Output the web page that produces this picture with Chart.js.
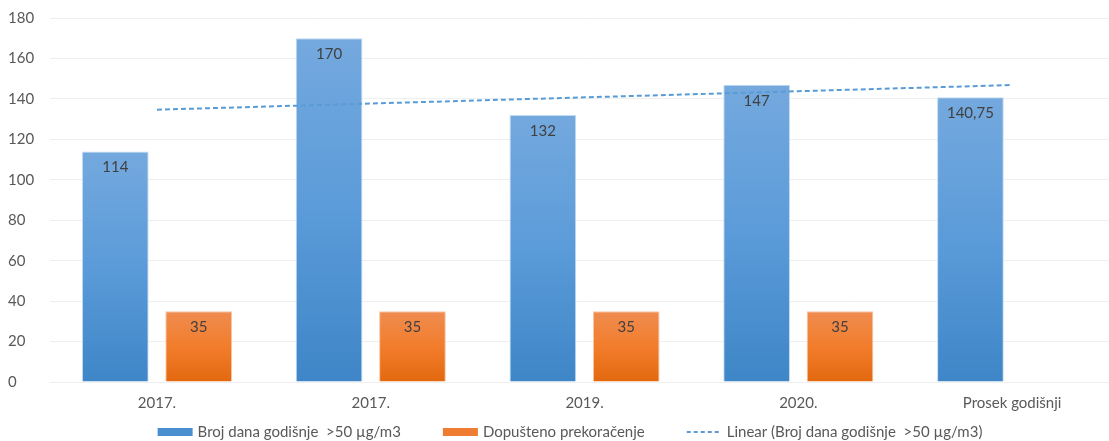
<!DOCTYPE html>
<html>
<head>
<meta charset="utf-8">
<script src="https://cdn.jsdelivr.net/npm/chart.js@4/dist/chart.umd.min.js"></script>
<style>
  html, body { margin: 0; padding: 0; background: #ffffff; overflow: hidden; }
  #wrap { width: 1119px; height: 441px; position: relative; }
</style>
</head>
<body>
<div id="wrap"><canvas id="c"></canvas></div>
<script>
const categories = ['2017.', '2017.', '2019.', '2020.', 'Prosek godišnji'];
const seriesDays = [114, 170, 132, 147, 140.75];
const seriesAllowed = [35, 35, 35, 35, null];
const trendValues = [134.65, 137.7, 140.75, 143.8, 146.85];
const yTicks = [0, 20, 40, 60, 80, 100, 120, 140, 160, 180];
const seriesNames = ['Broj dana godišnje  >50 µg/m3', 'Dopušteno prekoračenje', 'Linear (Broj dana godišnje  >50 µg/m3)'];

const FONT = 'Lato, "Open Sans", sans-serif';
const TEXT = '#595959';

function barGrad(ctx, top, mid, bottom) {
  const chart = ctx.chart;
  const y = chart.scales && chart.scales.y;
  if (!chart.chartArea || !y || ctx.raw === null || ctx.raw === undefined) return mid;
  const y0 = y.getPixelForValue(ctx.raw);
  const y1 = y.getPixelForValue(0);
  const g = chart.ctx.createLinearGradient(0, y0, 0, y1);
  g.addColorStop(0, top);
  g.addColorStop(0.5, mid);
  g.addColorStop(1, bottom);
  return g;
}

const labelPlugin = {
  id: 'barLabels',
  afterDatasetsDraw(chart) {
    const ctx = chart.ctx;
    ctx.save();
    ctx.font = '15px ' + FONT;
    ctx.fillStyle = '#404040';
    ctx.textAlign = 'center';
    ctx.textBaseline = 'middle';
    [0, 1].forEach(di => {
      const meta = chart.getDatasetMeta(di);
      const data = chart.data.datasets[di].data;
      meta.data.forEach((bar, i) => {
        const v = data[i];
        if (v === null || v === undefined) return;
        const txt = String(v).replace('.', ',');
        ctx.fillText(txt, bar.x, bar.y + 16);
      });
    });
    ctx.restore();
  }
};

const legendPlugin = {
  id: 'customLegend',
  afterDraw(chart) {
    const ctx = chart.ctx;
    ctx.save();
    ctx.font = '15px ' + FONT;
    ctx.textBaseline = 'middle';
    ctx.textAlign = 'left';
    const y = 432;
    const symW = 35, symGap = 5, itemGap = 42;
    const widths = seriesNames.map(n => ctx.measureText(n).width);
    const total = widths.reduce((a, b) => a + b, 0) + 3 * (symW + symGap) + 2 * itemGap;
    let x = 570 - total / 2;
    const colors = ['#4a8fd0', '#ef7d31', '#5b9bd5'];
    seriesNames.forEach((n, i) => {
      if (i < 2) {
        ctx.fillStyle = colors[i];
        ctx.fillRect(x, y - 4, symW, 8);
      } else {
        ctx.strokeStyle = colors[i];
        ctx.lineWidth = 2;
        ctx.setLineDash([4, 3]);
        ctx.beginPath();
        ctx.moveTo(x, y);
        ctx.lineTo(x + symW, y);
        ctx.stroke();
        ctx.setLineDash([]);
      }
      ctx.fillStyle = TEXT;
      ctx.fillText(n, x + symW + symGap, y);
      x += symW + symGap + widths[i] + itemGap;
    });
    ctx.restore();
  }
};

new Chart(document.getElementById('c'), {
  type: 'bar',
  data: {
    labels: categories,
    datasets: [
      {
        label: seriesNames[0],
        data: seriesDays,
        backgroundColor: c => barGrad(c, '#74a9de', '#5b9bd9', '#3e86c7'),
        borderColor: 'rgba(195,218,242,1)',
        borderWidth: 1,
        barPercentage: 0.8,
        categoryPercentage: 0.78,
        order: 1
      },
      {
        label: seriesNames[1],
        data: seriesAllowed,
        backgroundColor: c => barGrad(c, '#ef8c50', '#f27d2c', '#e3680f'),
        borderColor: 'rgba(248,198,165,1)',
        borderWidth: 1,
        barPercentage: 0.8,
        categoryPercentage: 0.78,
        order: 1
      },
      {
        type: 'line',
        label: seriesNames[2],
        data: trendValues,
        borderColor: '#5b9bd5',
        borderWidth: 2,
        borderDash: [5, 3],
        pointRadius: 0,
        fill: false,
        order: 0
      }
    ]
  },
  options: {
    responsive: true,
    maintainAspectRatio: false,
    animation: false,
    layout: { padding: { top: 18, left: 8, right: 0, bottom: 25 } },
    scales: {
      x: {
        grid: { display: false },
        border: { display: false },
        ticks: { color: TEXT, font: { family: FONT, size: 15 }, padding: 4 }
      },
      y: {
        min: 0, max: 180,
        afterBuildTicks: axis => { axis.ticks = yTicks.map(v => ({ value: v })); },
        grid: { color: '#efefef', drawTicks: false },
        border: { display: false },
        ticks: { color: TEXT, font: { family: FONT, size: 15 }, padding: 8, crossAlign: 'far' }
      }
    },
    plugins: {
      tooltip: { enabled: false },
      legend: { display: false }
    }
  },
  plugins: [labelPlugin, legendPlugin]
});
</script>
</body>
</html>
